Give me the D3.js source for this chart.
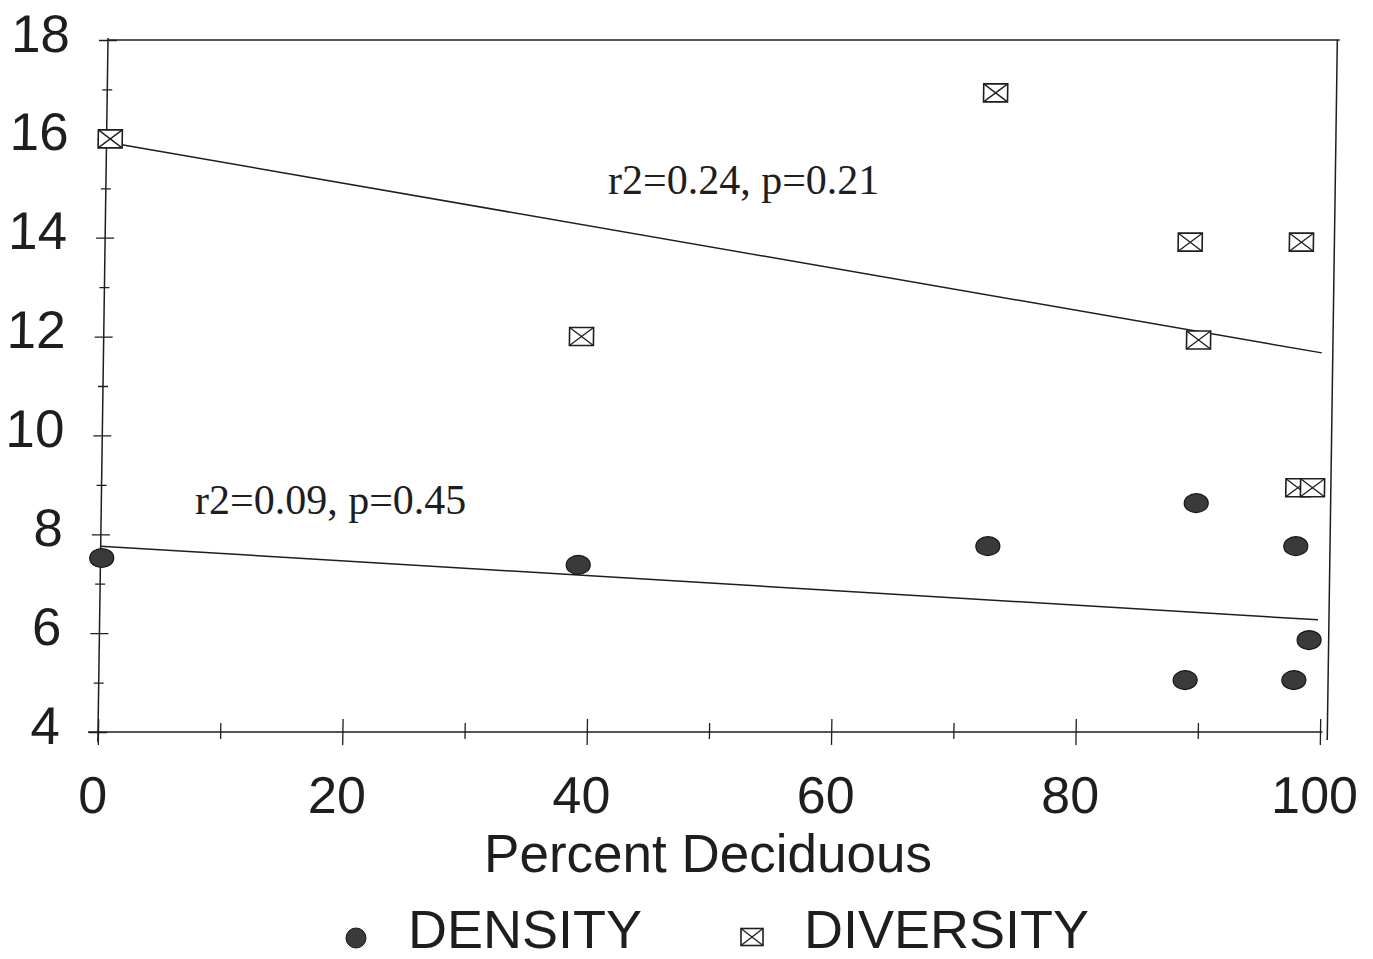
<!DOCTYPE html>
<html>
<head>
<meta charset="utf-8">
<script src="https://cdn.jsdelivr.net/npm/d3@7"></script>
<style>
  html, body { margin: 0; padding: 0; background: #fff; }
  svg { display: block; }
</style>
</head>
<body>
<svg id="chart" width="1373" height="959"></svg>
<script>
// ---- data ----
const densityX   = [0.1, 39.1, 72.6, 89.6, 97.8, 99.0, 88.9, 97.8];
const densityY   = [7.52, 7.38, 7.76, 8.63, 7.76, 5.86, 5.05, 5.05];
const diversityX = [0.3, 39.1, 72.7, 88.8, 97.9, 89.6, 97.9, 99.1];
const diversityY = [16.0, 12.0, 16.93, 13.91, 13.91, 11.93, 8.94, 8.94];
const densityFitX   = [0.0, 99.7];
const densityFitY   = [7.76, 6.27];
const diversityFitX = [0.3, 99.7];
const diversityFitY = [15.92, 11.67];
const xTicks = [0, 10, 20, 30, 40, 50, 60, 70, 80, 90, 100];
const xTickLabels = ["0", "", "20", "", "40", "", "60", "", "80", "", "100"];
const yTicks = [4, 5, 6, 7, 8, 9, 10, 11, 12, 13, 14, 15, 16, 17, 18];
const yTickLabels = ["4", "", "6", "", "8", "", "10", "", "12", "", "14", "", "16", "", "18"];
const xTitle = "Percent Deciduous";
const legendLabels = ["DENSITY", "DIVERSITY"];
const annotations = ["r2=0.24, p=0.21", "r2=0.09, p=0.45"];

// ---- drawing ----
const svg = d3.select("#chart");
const ink = "#1e1e1e";
const x = d3.scaleLinear().domain([0, 100]).range([98, 1320]);
const y = d3.scaleLinear().domain([4, 18]).range([732, 40]);

// scanned page is slightly sheared: emulate with skewX around the x-axis line
const s = 0.01445;
const shearDeg = -Math.atan(s) * 180 / Math.PI;
const g = svg.append("g")
  .attr("transform", `translate(${s * y(4)},0) skewX(${shearDeg})`);

// frame
g.append("line").attr("x1", x(0)).attr("x2", x(100.8)).attr("y1", y(18)).attr("y2", y(18))
  .attr("stroke", ink).attr("stroke-width", 1.5);
g.append("line").attr("x1", x(100.6)).attr("x2", x(100.6)).attr("y1", y(18)).attr("y2", y(4) + 8)
  .attr("stroke", ink).attr("stroke-width", 1.5);

// y axis
const yAxis = d3.axisLeft(y).tickValues(yTicks).tickFormat((d, i) => yTickLabels[i]).tickSize(0);
const ya = g.append("g").attr("transform", `translate(${x(0)},0)`).call(yAxis);
ya.select(".domain").remove();
ya.selectAll(".tick text")
  .attr("x", -38).attr("dy", 0).attr("y", 11)
  .attr("font-family", "Liberation Sans, Arial, sans-serif")
  .attr("font-size", 53).attr("fill", ink).attr("text-anchor", "end");
ya.selectAll(".tick").append("line")
  .attr("x1", (d, i) => yTickLabels[i] ? -9 : -5)
  .attr("x2", (d, i) => yTickLabels[i] ? 9 : 5)
  .attr("stroke", ink).attr("stroke-width", 1.3);
g.append("line").attr("x1", x(0)).attr("x2", x(0)).attr("y1", y(18) - 2).attr("y2", y(4) + 10)
  .attr("stroke", ink).attr("stroke-width", 1.5);

// x axis
const xAxis = d3.axisBottom(x).tickValues(xTicks).tickFormat((d, i) => xTickLabels[i]).tickSize(0);
const xa = g.append("g").attr("transform", `translate(0,${y(4)})`).call(xAxis);
xa.select(".domain").remove();
xa.selectAll(".tick text")
  .attr("y", 81).attr("dy", 0).attr("dx", -5)
  .attr("font-family", "Liberation Sans, Arial, sans-serif")
  .attr("font-size", 52).attr("fill", ink);
xa.selectAll(".tick").append("line")
  .attr("y1", (d, i) => xTickLabels[i] ? -13 : -9)
  .attr("y2", (d, i) => xTickLabels[i] ? 13 : 7)
  .attr("stroke", ink).attr("stroke-width", 1.3);
g.append("line").attr("x1", x(0) - 10).attr("x2", x(100.2)).attr("y1", y(4)).attr("y2", y(4))
  .attr("stroke", ink).attr("stroke-width", 1.5);

// regression lines
const line = d3.line().x(d => x(d[0])).y(d => y(d[1]));
g.append("path").datum(d3.zip(densityFitX, densityFitY)).attr("d", line)
  .attr("fill", "none").attr("stroke", ink).attr("stroke-width", 1.5);
g.append("path").datum(d3.zip(diversityFitX, diversityFitY)).attr("d", line)
  .attr("fill", "none").attr("stroke", ink).attr("stroke-width", 1.5);

// markers
function crossBox(sel, w, h) {
  sel.append("rect").attr("x", -w / 2).attr("y", -h / 2).attr("width", w).attr("height", h)
    .attr("fill", "#fff").attr("stroke", ink).attr("stroke-width", 1.6);
  sel.append("path").attr("d", `M${-w / 2},${-h / 2}L${w / 2},${h / 2}M${w / 2},${-h / 2}L${-w / 2},${h / 2}`)
    .attr("stroke", ink).attr("stroke-width", 1.3);
}
g.selectAll(".dens").data(d3.zip(densityX, densityY)).join("ellipse")
  .attr("class", "dens")
  .attr("cx", d => x(d[0])).attr("cy", d => y(d[1]))
  .attr("rx", 12).attr("ry", 9.5)
  .attr("fill", "#3a3a3a").attr("stroke", "#151515").attr("stroke-width", 1.2);
g.selectAll(".div").data(d3.zip(diversityX, diversityY)).join("g")
  .attr("class", "div")
  .attr("transform", d => `translate(${x(d[0])},${y(d[1])})`)
  .each(function () { crossBox(d3.select(this), 24, 18); });

// annotations
svg.append("text").attr("x", 608).attr("y", 194).text(annotations[0])
  .attr("font-family", "Liberation Serif, Times New Roman, serif")
  .attr("font-size", 42).attr("fill", ink);
svg.append("text").attr("x", 195).attr("y", 514).text(annotations[1])
  .attr("font-family", "Liberation Serif, Times New Roman, serif")
  .attr("font-size", 42).attr("fill", ink);

// x title
svg.append("text").attr("x", 708).attr("y", 872).attr("text-anchor", "middle").text(xTitle)
  .attr("font-family", "Liberation Sans, Arial, sans-serif")
  .attr("font-size", 53).attr("fill", ink);

// legend
svg.append("circle").attr("cx", 356).attr("cy", 938).attr("r", 10)
  .attr("fill", "#3a3a3a").attr("stroke", "#151515").attr("stroke-width", 1);
svg.append("text").attr("x", 408).attr("y", 948).text(legendLabels[0])
  .attr("font-family", "Liberation Sans, Arial, sans-serif")
  .attr("font-size", 54).attr("fill", ink);
const lg = svg.append("g").attr("transform", "translate(752,937)");
crossBox(lg, 22, 17);
svg.append("text").attr("x", 804).attr("y", 948).text(legendLabels[1])
  .attr("font-family", "Liberation Sans, Arial, sans-serif")
  .attr("font-size", 54).attr("fill", ink);
</script>
</body>
</html>
